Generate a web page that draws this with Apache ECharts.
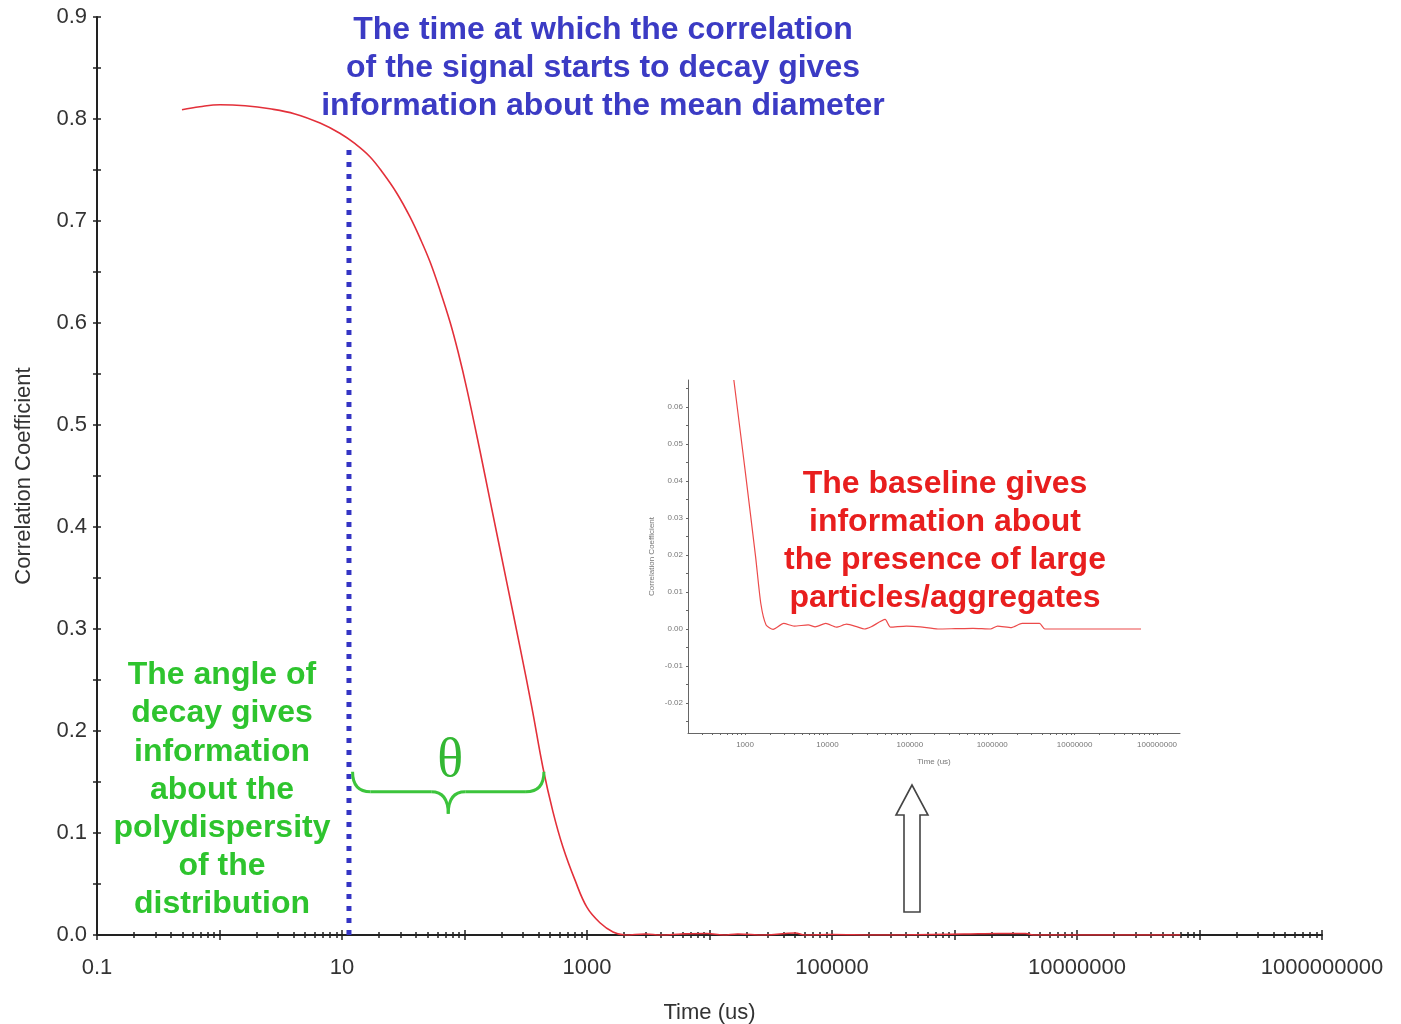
<!DOCTYPE html>
<html>
<head>
<meta charset="utf-8">
<script src="https://cdn.jsdelivr.net/npm/echarts@6/dist/echarts.min.js"></script>
<style>
  html, body { margin: 0; padding: 0; background: #fff; }
  #chart { width: 1401px; height: 1024px; }
</style>
</head>
<body>
<div id="chart"></div>
<script>
// Correlation function: delay time (us) against correlation coefficient
const mainTime = [0.494, 0.69, 1.01, 1.62, 2.58, 4.13, 6.62, 9.6, 12.7, 16.9, 21.6, 28.1, 35.9, 43.4,
  52.3, 63.1, 76.2, 88.5, 104.7, 133.6, 161, 222, 284, 355, 437, 527, 637, 797, 1000, 1275, 1630, 2040,
  3000, 4000, 6000, 9500, 13000, 17000, 28000, 50000, 60000, 100000, 220000, 1200000, 2300000,
  3800000, 4400000, 70000000];
const mainCorr = [0.809, 0.812, 0.814, 0.813, 0.810, 0.805, 0.796, 0.786, 0.776, 0.763, 0.747, 0.727, 0.704, 0.683,
  0.660, 0.632, 0.601, 0.572, 0.535, 0.475, 0.427, 0.345, 0.282, 0.223, 0.164, 0.121, 0.086, 0.054, 0.027, 0.012, 0.003, 0.0,
  0.001, 0.0, 0.001, 0.0015, 0.0, 0.001, 0.0, 0.002, 0.0, 0.0005, 0.0, 0.001, 0.0015,
  0.0015, 0.0, 0.0];

// Close-up of the baseline
const insetTime = [731, 1000, 1343, 1553, 1800, 2190, 2940, 3940, 5840, 7100, 9530, 12800, 17100,
  23000, 28000, 34000, 50100, 58300, 90600, 134000, 219000, 357000, 583000, 953000, 1160000,
  1710000, 2300000, 3750000, 4350000, 64000000];
const insetCorr = [0.0673, 0.043, 0.0195, 0.0069, 0.0011, -0.0001, 0.0015, 0.0008, 0.0011, 0.0006, 0.0015, 0.0005, 0.0013,
  0.0006, 0.0, 0.0006, 0.0026, 0.0005, 0.0008, 0.0006, 0.0, 0.0001, 0.0002, 0.0, 0.0008,
  0.0004, 0.0015, 0.0015, 0.0, 0.0];

// Onset of the decay (dotted marker)
const onsetTime = 11.4;
const onsetCorr = 0.772;

// Brace spanning the decay
const braceStartTime = 12.2;
const braceEndTime = 445;
const braceCorr = 0.16;

// Axis labels
const mainXLabels = [0.1, 10, 1000, 100000, 10000000, 1000000000];
const mainYLabels = [0, 0.1, 0.2, 0.3, 0.4, 0.5, 0.6, 0.7, 0.8, 0.9];
const insetXLabels = [1000, 10000, 100000, 1000000, 10000000, 100000000];
const insetYLabels = [-0.02, -0.01, 0, 0.01, 0.02, 0.03, 0.04, 0.05, 0.06];

// Log-axis tick positions: 1..9 x 10^n inside [lo, hi]
function logTicks(lo, hi, majorOnly) {
  const out = [];
  for (let e = -3; e <= 10; e++) {
    for (let m = 1; m <= 9; m++) {
      if (majorOnly && m > 1) continue;
      const v = parseFloat((m * Math.pow(10, e)).toPrecision(6));
      if (v >= lo * 0.9999 && v <= hi * 1.0001) out.push(v);
    }
  }
  return out;
}
function linTicks(lo, hi, step) {
  const out = [];
  const n0 = Math.ceil(lo / step - 1e-9), n1 = Math.floor(hi / step + 1e-9);
  for (let k = n0; k <= n1; k++) out.push(parseFloat((k * step).toFixed(6)));
  return out;
}

const X_MIN = 0.1, X_MAX = 1e9;
const IX_MIN = 203, IX_MAX = 1.9e8;
const IY_MIN = -0.0281, IY_MAX = 0.0673;

const fmtX = v => v < 1 ? v.toFixed(1) : String(Math.round(v));
const axisFont = { fontFamily: 'Liberation Sans, Arial, sans-serif', fontSize: 22, color: '#333' };
const insetFont = { fontFamily: 'Liberation Sans, Arial, sans-serif', fontSize: 8, color: '#777' };

function tickAxisX(values, len, inside) {
  return {
    type: 'log', gridIndex: 0, min: X_MIN, max: X_MAX, position: 'bottom',
    axisLine: { show: false }, axisLabel: { show: false }, splitLine: { show: false },
    axisTick: { show: true, inside: inside, length: len, customValues: values,
      lineStyle: { color: '#222', width: 1.5 } }
  };
}

const chart = echarts.init(document.getElementById('chart'));

const option = {
  animation: false,
  backgroundColor: '#fff',
  grid: [
    { left: 97, right: 79, top: 17, bottom: 89, outerBoundsMode: 'none' },
    { left: 688, top: 380, width: 492, height: 353, outerBoundsMode: 'none' }
  ],
  xAxis: [
    {
      type: 'log', gridIndex: 0, min: X_MIN, max: X_MAX, position: 'bottom',
      name: 'Time (us)', nameLocation: 'middle', nameGap: 67,
      nameTextStyle: { fontFamily: 'Liberation Sans, Arial, sans-serif', fontSize: 22, color: '#333' },
      axisLine: { show: true, onZero: false, lineStyle: { color: '#222', width: 2 } },
      axisTick: { show: true, length: 3, customValues: logTicks(X_MIN, X_MAX, false),
        lineStyle: { color: '#222', width: 1.5 } },
      axisLabel: Object.assign({ margin: 22, customValues: mainXLabels, formatter: fmtX }, axisFont),
      splitLine: { show: false }
    },
    tickAxisX(logTicks(X_MIN, X_MAX, false), 3, true),
    tickAxisX(logTicks(X_MIN, X_MAX, true), 5, false),
    tickAxisX(logTicks(X_MIN, X_MAX, true), 5, true),
    {
      type: 'log', gridIndex: 1, min: IX_MIN, max: IX_MAX, position: 'bottom',
      name: 'Time (us)', nameLocation: 'middle', nameGap: 25,
      nameTextStyle: insetFont,
      axisLine: { show: true, onZero: false, lineStyle: { color: '#666', width: 1 } },
      axisTick: { show: true, length: 2, customValues: logTicks(IX_MIN, IX_MAX, false),
        lineStyle: { color: '#666', width: 1 } },
      axisLabel: Object.assign({ margin: 8, customValues: insetXLabels, formatter: fmtX }, insetFont),
      splitLine: { show: false }
    }
  ],
  yAxis: [
    {
      type: 'value', gridIndex: 0, min: 0, max: 0.9, interval: 0.05,
      name: 'Correlation Coefficient', nameLocation: 'middle', nameGap: 62,
      nameTextStyle: { fontFamily: 'Liberation Sans, Arial, sans-serif', fontSize: 22, color: '#333' },
      axisLine: { show: true, onZero: false, lineStyle: { color: '#222', width: 2 } },
      axisTick: { show: true, length: 4, lineStyle: { color: '#222', width: 1.5 } },
      axisLabel: Object.assign({ margin: 10, customValues: mainYLabels, formatter: v => v.toFixed(1) }, axisFont),
      splitLine: { show: false }
    },
    {
      type: 'value', gridIndex: 0, min: 0, max: 0.9, interval: 0.05, position: 'left',
      axisLine: { show: false }, axisLabel: { show: false }, splitLine: { show: false },
      axisTick: { show: true, inside: true, length: 4, lineStyle: { color: '#222', width: 1.5 } }
    },
    {
      type: 'value', gridIndex: 1, min: IY_MIN, max: IY_MAX,
      name: 'Correlation Coefficient', nameLocation: 'middle', nameGap: 32,
      nameTextStyle: insetFont,
      axisLine: { show: true, onZero: false, lineStyle: { color: '#666', width: 1 } },
      axisTick: { show: true, length: 2, customValues: linTicks(IY_MIN, IY_MAX, 0.005),
        lineStyle: { color: '#666', width: 1 } },
      axisLabel: Object.assign({ margin: 5, customValues: insetYLabels, formatter: v => v.toFixed(2) }, insetFont),
      splitLine: { show: false }
    }
  ],
  series: [
    {
      name: 'Correlation', type: 'line', xAxisIndex: 0, yAxisIndex: 0,
      data: mainTime.map((t, i) => [t, mainCorr[i]]),
      showSymbol: false, smooth: 0.4, clip: true,
      lineStyle: { color: '#e3303a', width: 1.6 }, z: 3
    },
    {
      name: 'Decay onset', type: 'line', xAxisIndex: 0, yAxisIndex: 0,
      data: [[onsetTime, 0], [onsetTime, onsetCorr]],
      showSymbol: false,
      lineStyle: { color: '#3434c4', width: 5, type: [5, 7], cap: 'butt' }, z: 2
    },
    {
      name: 'Baseline', type: 'line', xAxisIndex: 4, yAxisIndex: 2,
      data: insetTime.map((t, i) => [t, insetCorr[i]]),
      showSymbol: false, smooth: 0.2, clip: true,
      lineStyle: { color: '#ec4a4a', width: 1.2 }, z: 3
    }
  ]
};

chart.setOption(option);

// Annotations
const boldFont = 'bold 32px "Liberation Sans", Arial, sans-serif';
const pL = chart.convertToPixel({ xAxisIndex: 0, yAxisIndex: 0 }, [braceStartTime, braceCorr]);
const pR = chart.convertToPixel({ xAxisIndex: 0, yAxisIndex: 0 }, [braceEndTime, braceCorr]);
const xL = pL[0], xR = pR[0], yTop = pL[1], yMid = yTop + 20, yTip = yTop + 42;
const xC = (xL + xR) / 2;
const braceStyle = { fill: 'none', stroke: '#3cc43c', lineWidth: 3 };
const curve = (x1, y1, cx, cy, x2, y2) => ({
  type: 'bezierCurve', z: 10, shape: { x1: x1, y1: y1, cpx1: cx, cpy1: cy, x2: x2, y2: y2 }, style: braceStyle
});
const seg = (x1, y1, x2, y2) => ({
  type: 'line', z: 10, shape: { x1: x1, y1: y1, x2: x2, y2: y2 }, style: braceStyle
});

chart.setOption({
  graphic: [
    {
      type: 'text', z: 10,
      style: {
        text: 'The time at which the correlation\nof the signal starts to decay gives\ninformation about the mean diameter',
        x: 603, y: 68, align: 'center', verticalAlign: 'middle', lineHeight: 38,
        font: boldFont, fill: '#3b3bc4'
      }
    },
    {
      type: 'text', z: 10,
      style: {
        text: 'The angle of\ndecay gives\ninformation\nabout the\npolydispersity\nof the\ndistribution',
        x: 222, y: 790, align: 'center', verticalAlign: 'middle', lineHeight: 38.2,
        font: boldFont, fill: '#2ec42e'
      }
    },
    {
      type: 'text', z: 10,
      style: {
        text: 'The baseline gives\ninformation about\nthe presence of large\nparticles/aggregates',
        x: 945, y: 541, align: 'center', verticalAlign: 'middle', lineHeight: 38,
        font: boldFont, fill: '#e81e1e'
      }
    },
    curve(xL, yTop, xL, yMid, xL + 18, yMid),
    seg(xL + 18, yMid, xC - 17, yMid),
    curve(xC - 17, yMid, xC, yMid, xC, yTip),
    curve(xC, yTip, xC, yMid, xC + 17, yMid),
    seg(xC + 17, yMid, xR - 18, yMid),
    curve(xR - 18, yMid, xR, yMid, xR, yTop),
    {
      type: 'text', z: 10,
      style: {
        text: 'θ', x: xC + 2, y: yTop - 10, align: 'center', verticalAlign: 'middle',
        font: '54px "Liberation Serif", "Times New Roman", serif', fill: '#33b833'
      }
    },
    {
      type: 'polygon', z: 10,
      shape: { points: [[912, 785], [896, 815], [904, 815], [904, 912], [920, 912], [920, 815], [928, 815]] },
      style: { fill: '#fff', stroke: '#444', lineWidth: 1.6 }
    }
  ]
});
</script>
</body>
</html>
